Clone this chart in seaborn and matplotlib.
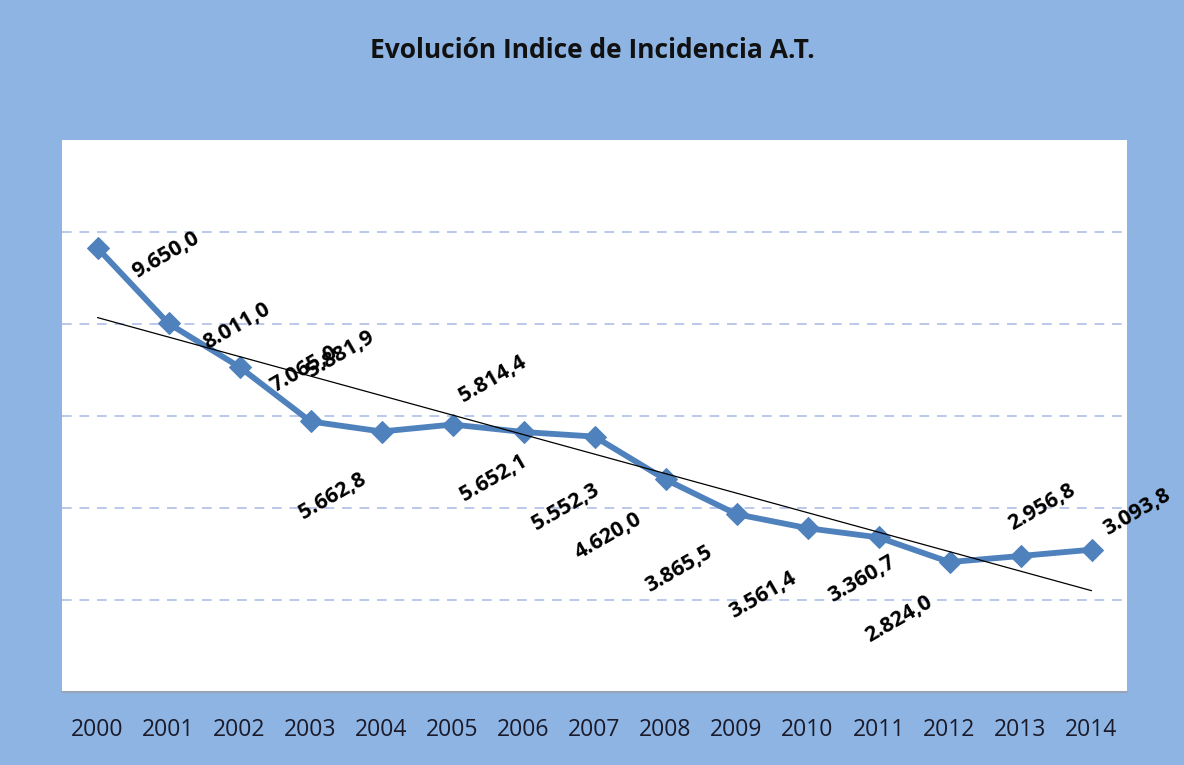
import numpy as np
import pandas as pd
import matplotlib
matplotlib.use("Agg")
import matplotlib.pyplot as plt
import seaborn as sns

years = ["2000", "2001", "2002", "2003", "2004", "2005", "2006", "2007",
         "2008", "2009", "2010", "2011", "2012", "2013", "2014"]
values = [9650.0, 8011.0, 7065.0, 5881.9, 5662.8, 5814.4, 5652.1, 5552.3,
          4620.0, 3865.5, 3561.4, 3360.7, 2824.0, 2956.8, 3093.8]
labels = ["9.650,0", "8.011,0", "7.065,0", "5.881,9", "5.662,8", "5.814,4",
          "5.652,1", "5.552,3", "4.620,0", "3.865,5", "3.561,4", "3.360,7",
          "2.824,0", "2.956,8", "3.093,8"]
# label offsets in pixels (dx, dy) relative to each point
label_offsets = [(68, -7), (68, -3), (65, -2), (30, 67), (-49, -65), (40, 45),
                 (-30, -46), (-29, -71), (-57, -57), (-58, -55), (-45, -67),
                 (-17, -42), (-51, -57), (21, 49), (45, 38)]

title = "Evolución Indice de Incidencia A.T."

sns.set_theme(style="white")
plt.rcParams["font.family"] = ["Open Sans", "DejaVu Sans"]

bg = "#8DB4E2"
line_col = "#4F81BD"

fig = plt.figure(figsize=(11.84, 7.65), dpi=100)
fig.patch.set_facecolor(bg)
ax = fig.add_axes([62 / 1184, 1 - 692 / 765, (1127 - 62) / 1184, (692 - 140) / 765])
ax.set_facecolor("white")

df = pd.DataFrame({"x": np.arange(len(years)), "y": values})

# gridlines
for g in [2000, 4000, 6000, 8000, 10000]:
    ax.axhline(g, color="#BCC8EA", lw=1.4, ls=(0, (5, 4)), zorder=0)

sns.lineplot(data=df, x="x", y="y", ax=ax, color=line_col, lw=4.2,
             marker="D", markersize=11, markeredgecolor=line_col,
             markerfacecolor=line_col, zorder=3)

# linear trend line
coef = np.polyfit(df["x"], df["y"], 1)
xt = np.array([0, len(years) - 1])
ax.plot(xt, np.polyval(coef, xt), color="black", lw=0.9, zorder=4)

for i, (lab, (dx, dy)) in enumerate(zip(labels, label_offsets)):
    ax.annotate(lab, (i, values[i]), xytext=(dx, dy), textcoords="offset pixels",
                rotation=30, rotation_mode="anchor", ha="center", va="center",
                fontsize=15.5, fontweight="bold", color="black", zorder=5)

ax.set_xlim(-0.5, len(years) - 0.5)
ax.set_ylim(0, 12000)
ax.set_xticks(np.arange(len(years)))
ax.set_xticklabels(years, fontsize=16.5, color="#1a1a2a")
ax.set_yticks([])
ax.tick_params(axis="x", length=0, pad=19)
ax.set_xlabel("")
ax.set_ylabel("")
for s in ["top", "right", "left"]:
    ax.spines[s].set_visible(False)
ax.spines["bottom"].set_color("#9AA4B8")
ax.spines["bottom"].set_linewidth(1.5)

fig.text(0.5, 1 - 50 / 765, title, ha="center", va="center",
         fontsize=19, fontweight="bold", color="#111111")

fig.savefig("out.png", dpi=100, facecolor=bg)
